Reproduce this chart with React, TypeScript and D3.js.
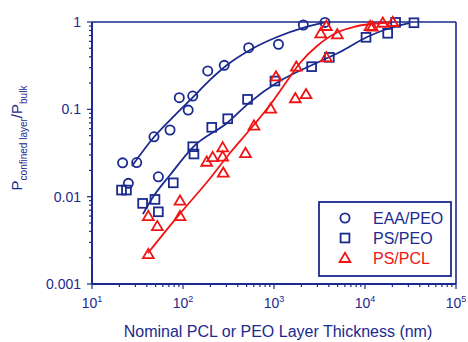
import React, { useEffect } from "react";
import * as d3 from "d3";

const eaaX = [21.7, 31, 25.1, 53.6, 48, 72, 91, 128, 114, 187, 284, 527, 1120, 2100, 3630];
const eaaY = [0.0244, 0.0246, 0.0142, 0.0169, 0.0485, 0.058, 0.136, 0.142, 0.098, 0.275, 0.319, 0.508, 0.555, 0.924, 0.99];

const psPeoX = [21.1, 23.9, 36, 49.2, 53.6, 78.2, 128, 132, 207, 310, 512, 1025, 2594, 4055, 10260, 17750, 21700, 34500];
const psPeoY = [0.0119, 0.0119, 0.00838, 0.0093, 0.00671, 0.0144, 0.0373, 0.0308, 0.0622, 0.078, 0.13, 0.211, 0.308, 0.394, 0.668, 0.743, 0.99, 0.98];

const psPclX = [41.6, 52.2, 41.6, 92.7, 92.7, 182, 212, 273, 273, 277, 486, 603, 920, 1051, 1714, 2249, 1759, 3758, 3260, 3758, 4970, 11350, 12030, 15670, 20180];
const psPclY = [0.006, 0.0046, 0.0022, 0.009, 0.006, 0.0251, 0.0284, 0.0367, 0.0288, 0.0188, 0.0316, 0.0652, 0.102, 0.238, 0.134, 0.149, 0.308, 0.394, 0.742, 0.9, 0.723, 0.9, 0.884, 0.98, 1.0];

// fitted curves
const eaaFitX = [27.5, 48, 81.7, 129, 198, 305, 545, 1080, 2085, 3630];
const eaaFitY = [0.0224, 0.0482, 0.086, 0.138, 0.217, 0.322, 0.478, 0.673, 0.854, 0.987];
const psPeoFitX = [36.3, 46.8, 72, 129, 305, 545, 1107, 2618, 5310, 10520, 18830, 31260];
const psPeoFitY = [0.00632, 0.0099, 0.0177, 0.037, 0.0697, 0.121, 0.205, 0.322, 0.453, 0.673, 0.854, 0.98];
const psPclFitX = [41.2, 92.7, 184, 328, 587, 904, 1390, 1930, 2970, 4920, 7760, 11940, 19820];
const psPclFitY = [0.00226, 0.0064, 0.0147, 0.0316, 0.0644, 0.112, 0.211, 0.339, 0.531, 0.758, 0.888, 0.949, 0.987];

const seriesNames = ["EAA/PEO", "PS/PEO", "PS/PCL"];
const xTickExp = [1, 2, 3, 4, 5];
const yTickLabels = ["0.001", "0.01", "0.1", "1"];

const NAVY = "#1b2a8e";
const RED = "#f01414";

const w = 468;
const h = 342;
const margin = { top: 22, right: 12, bottom: 58, left: 92 };

const Marker = ({ shape, x, y, color }: { shape: string; x: number; y: number; color: string }) => {
  if (shape === "circle")
    return <circle cx={x} cy={y} r={4.6} fill="none" stroke={color} strokeWidth={1.8} />;
  if (shape === "square")
    return <rect x={x - 4.4} y={y - 4.4} width={8.8} height={8.8} fill="none" stroke={color} strokeWidth={1.8} />;
  return (
    <path
      d={`M${x},${y - 5.2}L${x + 5.4},${y + 4}L${x - 5.4},${y + 4}Z`}
      fill="none"
      stroke={color}
      strokeWidth={1.8}
      strokeLinejoin="miter"
    />
  );
};

export default function App() {
  useEffect(() => {
    document.body.style.margin = "0";
  }, []);

  const x = d3.scaleLog().domain([10, 1e5]).range([margin.left, w - margin.right]);
  const y = d3.scaleLog().domain([0.001, 1]).range([h - margin.bottom, margin.top]);

  const line = d3
    .line<[number, number]>()
    .x((d) => x(d[0]))
    .y((d) => y(d[1]))
    .curve(d3.curveMonotoneX);

  const zip = (a: number[], b: number[]) => a.map((v, i) => [v, b[i]] as [number, number]);

  const series = [
    { name: seriesNames[0], shape: "circle", color: NAVY, pts: zip(eaaX, eaaY), fit: zip(eaaFitX, eaaFitY) },
    { name: seriesNames[1], shape: "square", color: NAVY, pts: zip(psPeoX, psPeoY), fit: zip(psPeoFitX, psPeoFitY) },
    { name: seriesNames[2], shape: "triangle", color: RED, pts: zip(psPclX, psPclY), fit: zip(psPclFitX, psPclFitY) },
  ];

  const xTicks = x.ticks();
  const yTicks = y.ticks();
  const isMajor = (v: number) => Math.abs(Math.log10(v) - Math.round(Math.log10(v))) < 1e-6;

  const x0 = margin.left;
  const x1 = w - margin.right;
  const y0 = h - margin.bottom;
  const y1 = margin.top;

  return (
    <svg width={w} height={h} style={{ display: "block", background: "#fff" }} fontFamily="Liberation Sans, Arial, sans-serif">
      {/* frame */}
      <line x1={x0} x2={x1} y1={y1} y2={y1} stroke={NAVY} strokeWidth={1.6} />
      <line x1={x1} x2={x1} y1={y1} y2={y0} stroke={NAVY} strokeWidth={1.6} />
      <line x1={x0} x2={x1} y1={y0} y2={y0} stroke={NAVY} strokeWidth={2} />
      <line x1={x0} x2={x0} y1={y1} y2={y0} stroke={NAVY} strokeWidth={2} />

      {/* x ticks */}
      {xTicks.map((t, i) => (
        <line key={"xt" + i} x1={x(t)} x2={x(t)} y1={y0} y2={y0 + (isMajor(t) ? 5 : 3)} stroke={NAVY} strokeWidth={1.2} />
      ))}
      {xTickExp.map((e) => (
        <text key={"xl" + e} x={x(Math.pow(10, e))} y={y0 + 24} fontSize={14} fill={NAVY} textAnchor="middle">
          10<tspan dy={-6} fontSize={9}>{e}</tspan>
        </text>
      ))}

      {/* y ticks */}
      {yTicks.map((t, i) => (
        <line key={"yt" + i} x1={x0 - (isMajor(t) ? 5 : 3)} x2={x0} y1={y(t)} y2={y(t)} stroke={NAVY} strokeWidth={1.2} />
      ))}
      {yTickLabels.map((l) => (
        <text key={"yl" + l} x={x0 - 11} y={y(+l) + 5} fontSize={14} fill={NAVY} textAnchor="end">
          {l}
        </text>
      ))}

      {/* axis titles */}
      <text x={(x0 + x1) / 2 + 4} y={337} fontSize={16} fill={NAVY} textAnchor="middle">
        Nominal PCL or PEO Layer Thickness (nm)
      </text>
      <text transform="translate(22,138) rotate(-90)" fontSize={15} fill={NAVY} textAnchor="middle">
        P<tspan dy={5} fontSize={10}>confined layer</tspan>
        <tspan dy={-5}>/P</tspan>
        <tspan dy={5} fontSize={10}>bulk</tspan>
      </text>

      {/* fits */}
      {series.map((s) => (
        <path key={"f" + s.name} d={line(s.fit) || ""} fill="none" stroke={s.color} strokeWidth={1.8} />
      ))}

      {/* points */}
      {series.map((s) =>
        s.pts.map((p, i) => <Marker key={s.name + i} shape={s.shape} x={x(p[0])} y={y(p[1])} color={s.color} />)
      )}

      {/* legend */}
      <rect x={319} y={202} width={132} height={74} fill="#fff" stroke={NAVY} strokeWidth={1.8} />
      {series.map((s, i) => (
        <g key={"lg" + s.name}>
          <Marker shape={s.shape} x={345} y={218 + i * 20} color={s.color} />
          <text x={373} y={224 + i * 20} fontSize={16} fill={s.color}>
            {s.name}
          </text>
        </g>
      ))}
    </svg>
  );
}
